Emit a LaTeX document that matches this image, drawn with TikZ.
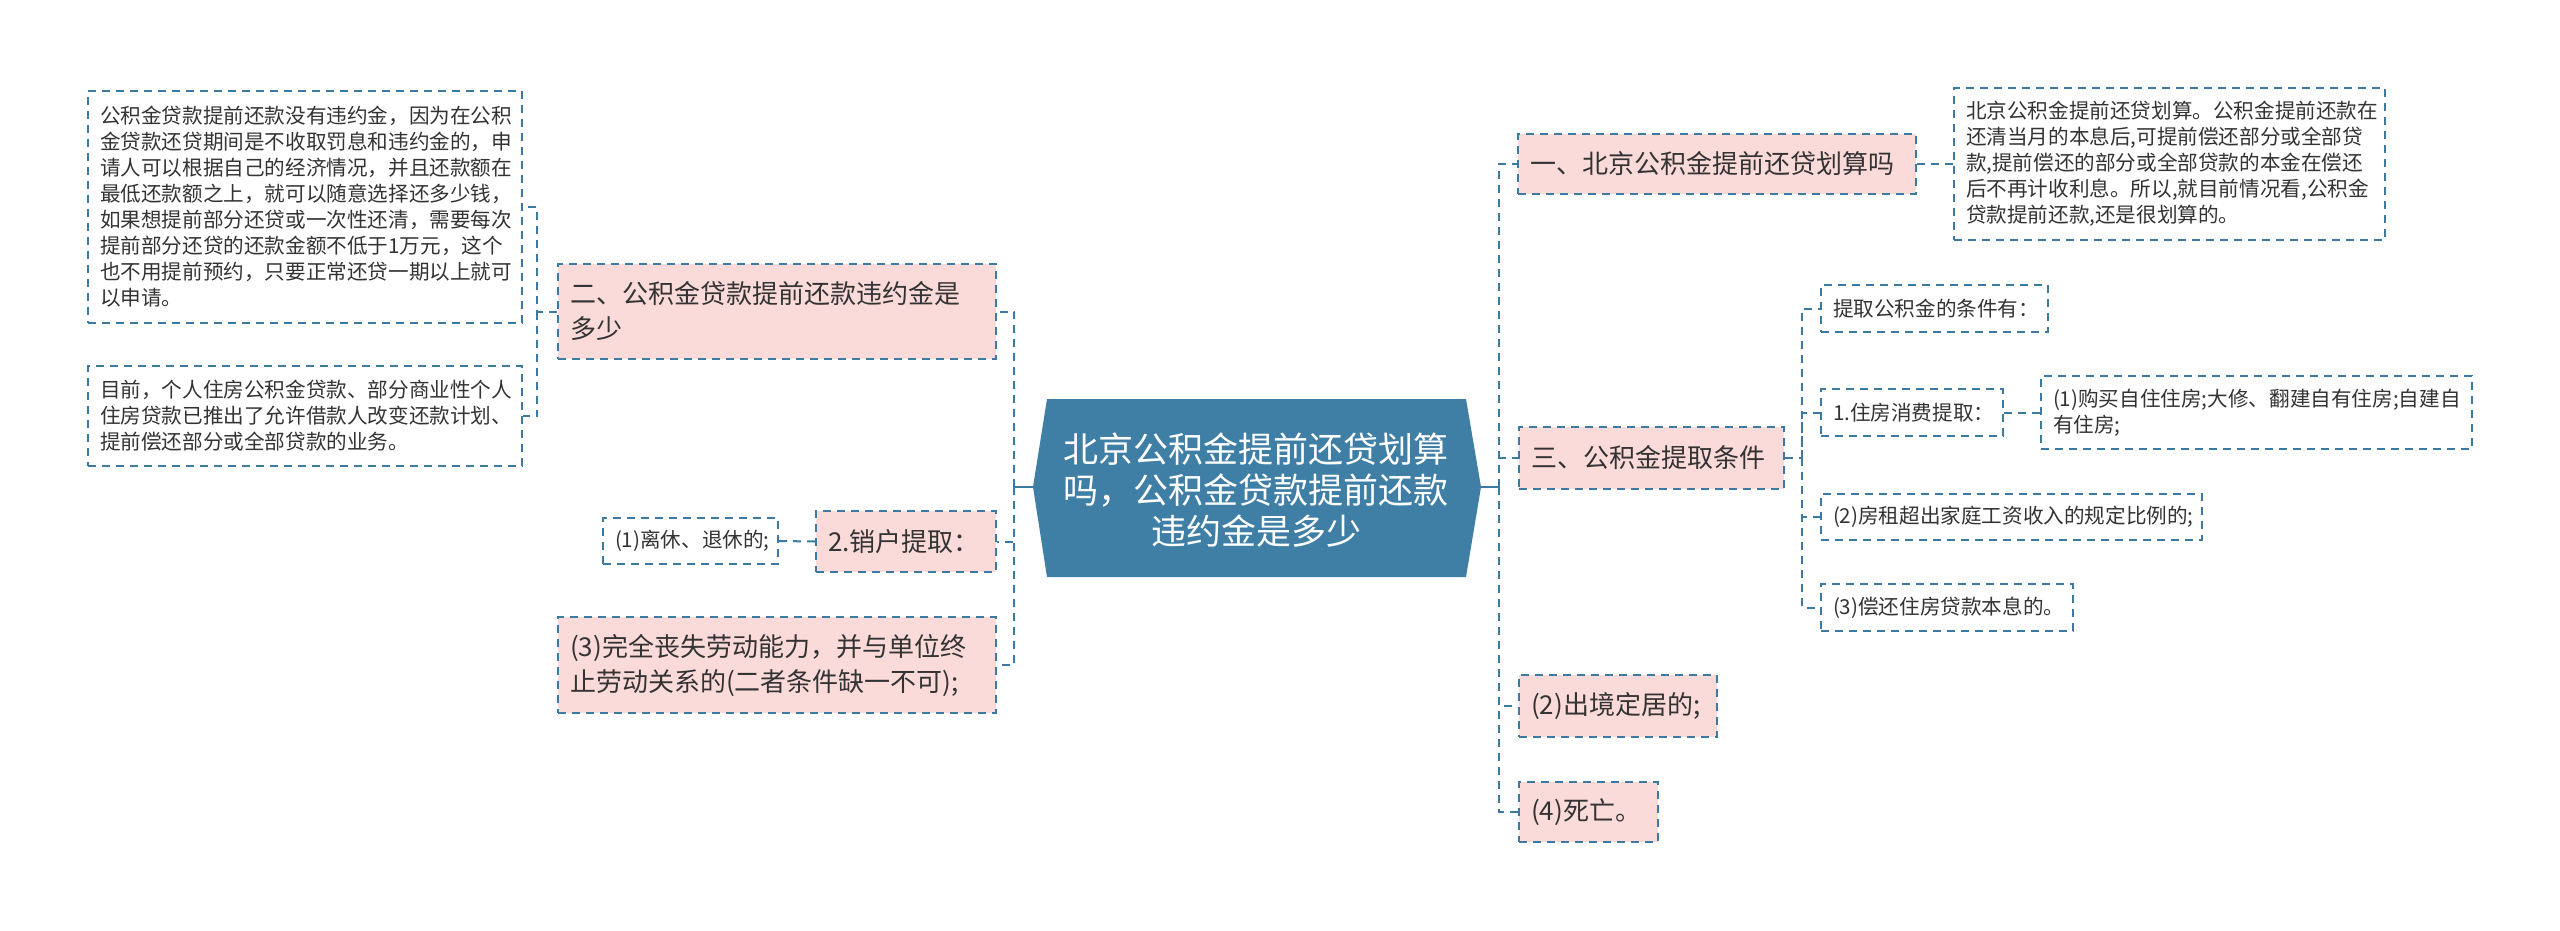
\documentclass[tikz,border=0pt]{standalone}
\usepackage{fontspec}
\setmainfont{Noto Sans CJK SC}
\definecolor{lineblue}{HTML}{3B7BA3}
\definecolor{mainblue}{HTML}{3F7FA6}
\definecolor{pinkfill}{HTML}{FBDADA}
\definecolor{textgray}{HTML}{333333}
\begin{document}
\begin{tikzpicture}[x=0.5pt,y=-0.5pt,
  lc/.style={draw=lineblue, line width=1pt, dash pattern=on 4pt off 3pt},
  box/.style={lc, rectangle, inner xsep=6pt, inner ysep=0pt, text=textgray, anchor=west, align=left},
  pinkbox/.style={box, fill=pinkfill, font=\fontsize{13}{17.5}\selectfont},
  leafbox/.style={box, fill=white, font=\fontsize{10.3}{13}\selectfont},
  conn/.style={lc},
  stem/.style={draw=lineblue, line width=1pt}
]
\useasboundingbox (0,0) rectangle (2560,931);
\fill[white] (0,0) rectangle (2560,931);

% central node
\fill[mainblue] (1047,399) -- (1466,399) -- (1481,487) -- (1466,577) -- (1047,577) -- (1033,487) -- cycle;
\node[text=white, align=center, font=\fontsize{17.5}{20.5}\selectfont] (c) at (1256,490)
  {北京公积金提前还贷划算\\吗，公积金贷款提前还款\\违约金是多少};
\coordinate (cl) at (1033,487);
\coordinate (cr) at (1481,487);
\coordinate (tl) at (1014,487);
\coordinate (tr) at (1499,487);
\draw[stem] (cl) -- (tl);
\draw[stem] (cr) -- (tr);

% left side
\node[pinkbox, minimum width=219pt, text width=207pt, minimum height=47.5pt] (n2) at (557,311.5)
  {二、公积金贷款提前还款违约金是\\多少};
\node[pinkbox, minimum width=90pt, text width=78pt, minimum height=30.5pt] (x2) at (815,541.5)
  {2.销户提取：};
\node[pinkbox, minimum width=219pt, text width=207pt, minimum height=48pt] (x3) at (557,665)
  {(3)完全丧失劳动能力，并与单位终\\止劳动关系的(二者条件缺一不可);};
\node[leafbox, minimum width=87.5pt, text width=75.5pt, minimum height=23pt] (x1) at (602,541)
  {(1)离休、退休的;};
\node[leafbox, minimum width=217pt, text width=205pt, minimum height=116pt] (la) at (87,207)
  {公积金贷款提前还款没有违约金，因为在公积\\金贷款还贷期间是不收取罚息和违约金的，申\\请人可以根据自己的经济情况，并且还款额在\\最低还款额之上，就可以随意选择还多少钱，\\如果想提前部分还贷或一次性还清，需要每次\\提前部分还贷的还款金额不低于1万元，这个\\也不用提前预约，只要正常还贷一期以上就可\\以申请。};
\node[leafbox, minimum width=217pt, text width=205pt, minimum height=50pt] (lb) at (87,416)
  {目前，个人住房公积金贷款、部分商业性个人\\住房贷款已推出了允许借款人改变还款计划、\\提前偿还部分或全部贷款的业务。};

\draw[conn] (tl) |- (n2.east);
\draw[conn] (tl) |- (x2.east);
\draw[conn] (tl) |- (x3.east);
\draw[conn] (x2.west) -- (x1.east);
\draw[conn] (n2.west) -- (537,311.5) |- (la.east);
\draw[conn] (537,311.5) |- (lb.east);

% right side
\node[pinkbox, minimum width=199pt, text width=187pt, minimum height=30pt] (r1) at (1517,164)
  {一、北京公积金提前还贷划算吗};
\node[leafbox, minimum width=215.5pt, text width=203.5pt, minimum height=76pt] (r1a) at (1953,164)
  {北京公积金提前还贷划算。公积金提前还款在\\还清当月的本息后,可提前偿还部分或全部贷\\款,提前偿还的部分或全部贷款的本金在偿还\\后不再计收利息。所以,就目前情况看,公积金\\贷款提前还款,还是很划算的。};
\node[pinkbox, minimum width=132.5pt, text width=120.5pt, minimum height=31pt] (r3) at (1518,458)
  {三、公积金提取条件};
\node[leafbox, minimum width=113.5pt, text width=101.5pt, minimum height=23.5pt] (s1) at (1820,308.5)
  {提取公积金的条件有：};
\node[leafbox, minimum width=91pt, text width=79pt, minimum height=23.5pt] (s2) at (1820,412.5)
  {1.住房消费提取：};
\node[leafbox, minimum width=215.5pt, text width=203.5pt, minimum height=36.5pt] (s2a) at (2040,412.5)
  {(1)购买自住住房;大修、翻建自有住房;自建自\\有住房;};
\node[leafbox, minimum width=190.5pt, text width=178.5pt, minimum height=23pt] (s3) at (1820,517)
  {(2)房租超出家庭工资收入的规定比例的;};
\node[leafbox, minimum width=126pt, text width=114pt, minimum height=23.5pt] (s4) at (1820,607.5)
  {(3)偿还住房贷款本息的。};
\node[pinkbox, minimum width=99pt, text width=87pt, minimum height=31pt] (r4) at (1518,706)
  {(2)出境定居的;};
\node[pinkbox, minimum width=69.5pt, text width=57.5pt, minimum height=30pt] (r5) at (1518,812)
  {(4)死亡。};

\draw[conn] (tr) |- (r1.west);
\draw[conn] (tr) |- (r3.west);
\draw[conn] (tr) |- (r4.west);
\draw[conn] (tr) |- (r5.west);
\draw[conn] (r1.east) -- (r1a.west);
\draw[conn] (r3.east) -- (1802,458) |- (s1.west);
\draw[conn] (1802,458) |- (s2.west);
\draw[conn] (1802,458) |- (s3.west);
\draw[conn] (1802,458) |- (s4.west);
\draw[conn] (s2.east) -- (s2a.west);
\end{tikzpicture}
\end{document}
